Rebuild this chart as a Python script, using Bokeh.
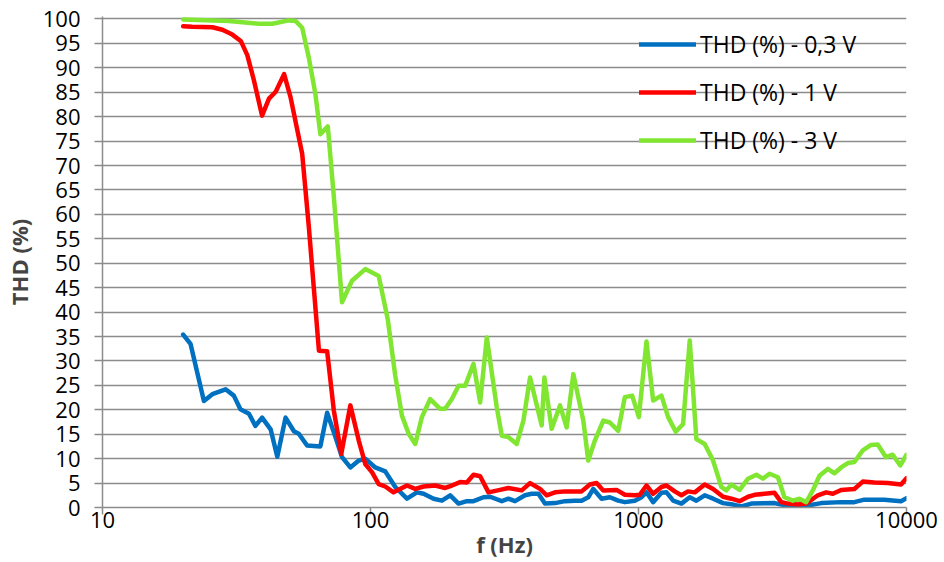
from bokeh.plotting import figure
from bokeh.models import Range1d, FixedTicker, PrintfTickFormatter, Legend, LegendItem
from bokeh.embed import file_html
from bokeh.resources import INLINE

# Measured THD versus frequency at three drive levels
freq_03v = [20, 21.3, 23.9, 25.7, 28.8, 30.9, 32.7, 35.2, 37.2, 39.4, 42.4, 44.9, 48.2, 51.8, 54.0,
            58.0, 65.0, 68.9, 74.0, 78.3, 84.1, 90.4, 95.6, 104.2, 113.5, 123.7, 136.8, 149.0, 157.8,
            171.9, 184.7, 198.3, 213.1, 228.8, 242.3, 264.0, 279.4, 309.0, 327.1, 346.2, 377.2, 399.5,
            423.1, 447.7, 487.9, 531.6, 579.1, 613.3, 649.6, 678.1, 728.2, 781.9, 840.2, 889.3, 968.8,
            1026, 1071, 1134, 1218, 1272, 1347, 1446, 1553, 1644, 1766, 1898, 2068, 2253, 2419, 2636,
            3218, 3409, 3610, 3934, 4285, 4804, 5703, 6391, 6964, 8267, 9539, 10000]
thd_03v = [35.4, 33.5, 21.8, 23.2, 24.2, 22.9, 20.1, 19.2, 16.7, 18.4, 16.0, 10.4, 18.4, 15.6, 15.1,
           12.7, 12.5, 19.4, 14.4, 10.3, 8.2, 9.6, 10.0, 8.2, 7.4, 4.2, 1.8, 3.1, 2.8,
           1.8, 1.4, 2.5, 0.8, 1.3, 1.3, 2.1, 2.2, 1.3, 1.8, 1.3, 2.5, 2.8,
           2.8, 0.8, 0.9, 1.3, 1.4, 1.4, 2.1, 3.8, 1.8, 2.1, 1.4, 1.1, 1.4,
           2.1, 3.1, 1.1, 3.0, 3.1, 1.4, 0.8, 2.1, 1.4, 2.5, 1.8, 0.9, 0.6, 0.2, 0.8,
           0.9, 0.6, 0.4, 0.4, 0.4, 0.9, 1.1, 1.1, 1.6, 1.6, 1.3, 1.9]

freq_1v = [20, 21.6, 25.7, 28.0, 30.5, 32.8, 34.7, 36.7, 39.4, 41.8, 44.3, 47.6, 50.3, 55.6, 58.9,
           64.2, 68.9, 73.0, 77.8, 84.1, 90.4, 95.6, 101.4, 107.3, 113.5, 121.9, 136.8, 146.9, 157.8,
           174.3, 189.9, 201.2, 216.0, 228.8, 242.3, 256.5, 275.6, 304.3, 327.1, 366.6, 393.8, 429.0,
           454.4, 487.9, 531.6, 613.3, 658.5, 697.6, 738.8, 828.0, 889.3, 968.8, 1011, 1071, 1134,
           1218, 1272, 1365, 1446, 1530, 1621, 1766, 1898, 2068, 2221, 2384, 2563, 2712, 3218, 3409,
           3610, 3934, 4224, 4670, 5015, 5311, 5703, 6391, 6868, 7586, 8511, 9539, 10000]
thd_1v = [98.5, 98.4, 98.3, 97.8, 96.8, 95.5, 92.6, 87.5, 80.2, 83.7, 85.1, 88.7, 84.0, 72.4, 57.3,
          32.1, 32.0, 19.8, 11.0, 20.9, 13.7, 8.9, 7.2, 4.8, 4.3, 3.1, 4.5, 3.8, 4.3,
          4.5, 4.0, 4.5, 5.2, 5.1, 6.7, 6.4, 3.1, 3.6, 4.0, 3.5, 5.0, 3.8,
          2.5, 3.1, 3.3, 3.3, 4.7, 5.0, 3.5, 3.6, 2.6, 2.5, 2.6, 4.5, 2.8,
          4.2, 4.5, 3.3, 2.5, 3.3, 3.1, 4.7, 3.8, 2.2, 1.8, 1.3, 2.2, 2.6, 3.0, 1.1,
          0.8, 0.6, 0.8, 2.5, 3.1, 2.8, 3.6, 3.8, 5.3, 5.1, 5.0, 4.7, 6.0]

freq_3v = [20, 29.6, 38.3, 43.0, 49.6, 52.5, 55.6, 58.9, 62.3, 65.0, 69.3, 73.0, 78.3, 85.3, 95.6,
           107.3, 116.0, 123.7, 131.0, 138.8, 146.9, 155.5, 167.0, 182.0, 189.9, 201.2, 213.1, 225.5,
           242.3, 256.5, 271.6, 295.9, 309.0, 327.1, 351.3, 372.0, 393.8, 435.3, 445.5, 474.2, 509.3,
           539.3, 571.3, 622.3, 649.6, 687.4, 738.8, 781.9, 840.2, 889.3, 947, 1003, 1071, 1134,
           1218, 1290, 1377, 1467, 1553, 1644, 1766, 1898, 2038, 2127, 2221, 2384, 2563, 2752, 2913,
           3083, 3314, 3505, 3767, 3987, 4224, 4472, 4734, 5088, 5385, 5703, 6039, 6391, 6868, 7376,
           7810, 8386, 8884, 9482, 10000]
thd_3v = [99.9, 99.6, 99.0, 99.0, 99.7, 99.6, 98.2, 92.0, 84.6, 76.4, 78.0, 63.5, 42.0, 46.4, 48.8,
          47.4, 38.5, 27.0, 18.8, 15.1, 13.0, 18.5, 22.2, 20.2, 20.2, 22.2, 24.9, 24.9,
          29.4, 21.5, 34.8, 20.5, 14.7, 14.4, 13.0, 17.8, 26.6, 16.8, 26.6, 16.1, 20.9,
          16.4, 27.3, 17.8, 9.6, 13.7, 17.8, 17.4, 15.7, 22.6, 22.9, 18.5, 34.0, 21.9,
          22.9, 18.5, 15.5, 17.1, 34.2, 14.0, 13.0, 9.6, 4.2, 3.5, 4.7, 3.6, 5.9, 6.7, 5.9,
          6.9, 6.2, 2.1, 1.4, 1.8, 1.1, 3.5, 6.5, 7.9, 7.0, 8.2, 9.1, 9.3, 11.7, 12.8,
          12.9, 10.3, 10.8, 8.6, 10.8]

series_labels = ["THD (%) - 0,3 V", "THD (%) - 1 V", "THD (%) - 3 V"]
series_colors = ["#0070C0", "#FF0000", "#80E632"]
y_ticks = list(range(0, 101, 5))
x_ticks = [10, 100, 1000, 10000]

FONT = "Open Sans"
GRID = "#8c8c8c"

p = figure(width=944, height=562, x_axis_type="log",
           x_range=Range1d(10, 10000), y_range=Range1d(0, 100.5),
           output_backend="svg", toolbar_location=None,
           min_border_left=100, min_border_right=38, min_border_top=16, min_border_bottom=55)
p.outline_line_color = None
p.background_fill_color = "white"
p.border_fill_color = "white"

p.xgrid.grid_line_color = None
p.ygrid.grid_line_color = GRID
p.ygrid.grid_line_width = 1.5
p.ygrid.ticker = FixedTicker(ticks=y_ticks)

# y axis
p.yaxis.ticker = FixedTicker(ticks=y_ticks)
p.yaxis.axis_label = "THD (%)"
p.yaxis.axis_label_text_font = FONT
p.yaxis.axis_label_text_font_style = "bold"
p.yaxis.axis_label_text_font_size = "22px"
p.yaxis.axis_label_standoff = 6
p.yaxis.major_label_text_font = FONT
p.yaxis.major_label_text_font_size = "22px"
p.yaxis.major_label_text_color = "black"
p.yaxis.major_label_standoff = 14
p.yaxis.axis_line_color = GRID
p.yaxis.axis_line_width = 1.5
p.yaxis.major_tick_line_color = GRID
p.yaxis.major_tick_line_width = 1.5
p.yaxis.major_tick_out = 8
p.yaxis.major_tick_in = 0
p.yaxis.minor_tick_line_color = None

# x axis
p.xaxis.ticker = FixedTicker(ticks=x_ticks, minor_ticks=[])
p.xaxis.formatter = PrintfTickFormatter(format="%d")
p.xaxis.axis_label = "f (Hz)"
p.xaxis.axis_label_text_font = FONT
p.xaxis.axis_label_text_font_style = "bold"
p.xaxis.axis_label_text_font_size = "22px"
p.xaxis.axis_label_standoff = -2
p.xaxis.major_label_text_font = FONT
p.xaxis.major_label_text_font_size = "22px"
p.xaxis.major_label_text_color = "black"
p.xaxis.major_label_standoff = -3
p.xaxis.axis_line_color = GRID
p.xaxis.axis_line_width = 1.5
p.xaxis.major_tick_line_color = GRID
p.xaxis.major_tick_line_width = 1.5
p.xaxis.major_tick_out = 7
p.xaxis.major_tick_in = 0
p.xaxis.minor_tick_line_color = None

items = []
for fx, fy, lab, col in zip([freq_03v, freq_1v, freq_3v], [thd_03v, thd_1v, thd_3v],
                            series_labels, series_colors):
    r = p.line(fx, fy, line_color=col, line_width=4.5, line_join="round", line_cap="round")
    items.append(LegendItem(label=lab, renderers=[r]))

legend = Legend(items=items, location=(537, 351), orientation="vertical",
                background_fill_alpha=0, border_line_color=None,
                padding=0, margin=0, spacing=16, glyph_width=57, glyph_height=20,
                label_height=20, label_standoff=4,
                label_text_font=FONT, label_text_font_size="23px", label_text_color="black")
p.add_layout(legend)

open("out.html", "w").write(file_html(p, INLINE))
